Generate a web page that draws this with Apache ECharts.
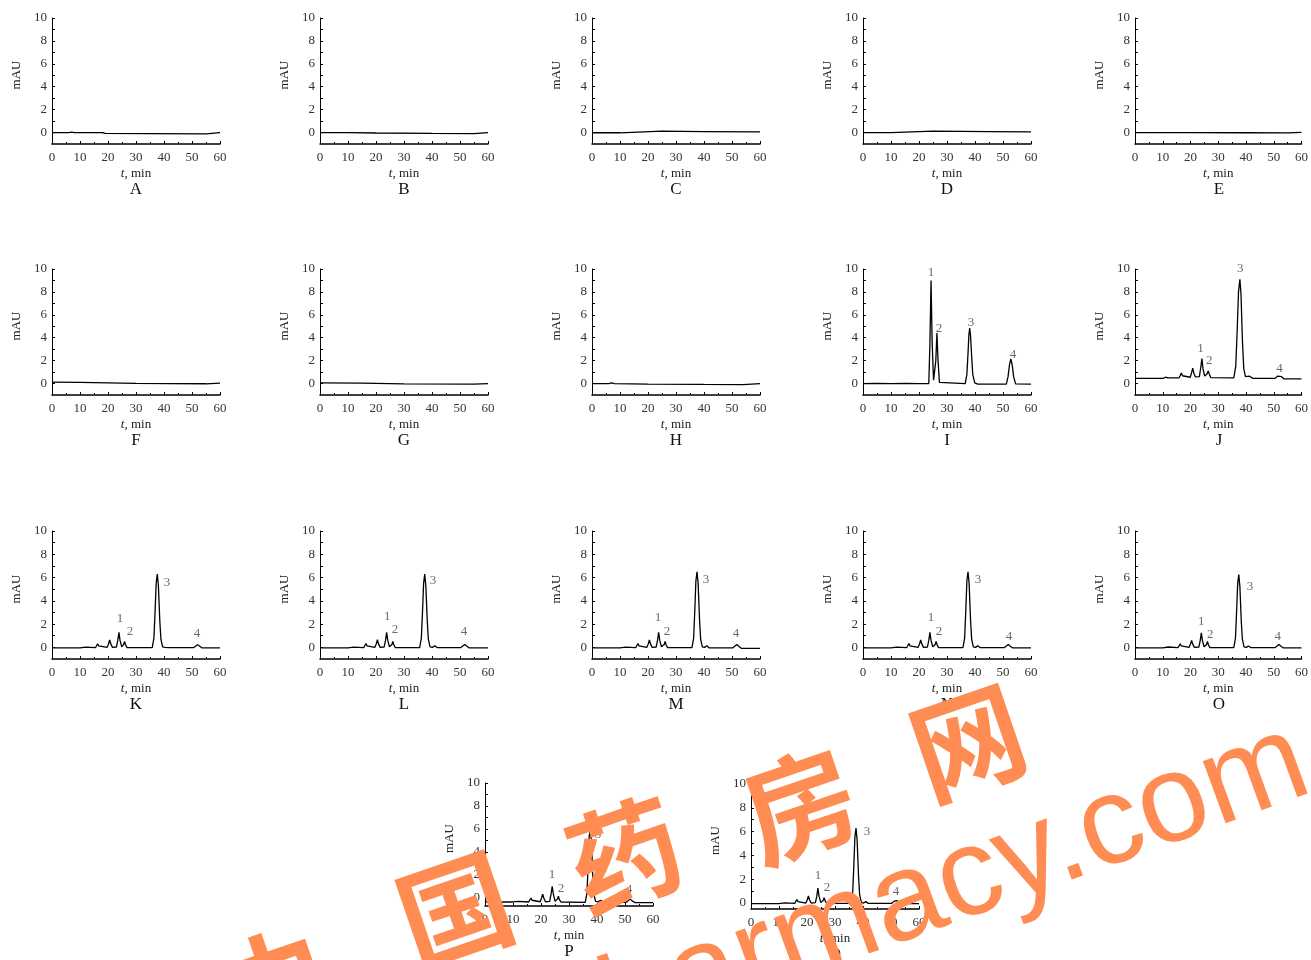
<!DOCTYPE html>
<html>
<head>
<meta charset="utf-8">
<script src="https://cdn.jsdelivr.net/npm/echarts@6/dist/echarts.min.js"></script>
<style>
  html, body { margin: 0; background: #fff; }
  #chart { width: 1311px; height: 960px; }
</style>
</head>
<body>
<div id="chart"></div>
<script>
// panel letters, in reading order
const panelNames = ['A', 'B', 'C', 'D', 'E', 'F', 'G', 'H', 'I', 'J', 'K', 'L', 'M', 'N', 'O', 'P', 'Q']

// tick values
const xTicks = [0, 10, 20, 30, 40, 50, 60]
const yTickLabels = [0, 2, 4, 6, 8, 10]
const yTickMarks = [0, 1, 2, 3, 4, 5, 6, 7, 8, 9, 10]

// chromatograms: [t (min), signal (mAU)]
const traceA = [[0, 0], [6, 0], [7, 0.04], [8, 0], [18, 0], [19, -0.08], [35, -0.1], [55, -0.12], [55.3, 0], [60, 0]]
const traceB = [[0, 0], [10, 0], [20, -0.04], [40, -0.08], [55, -0.1], [55.3, 0], [60, 0]]
const traceC = [[0, -0.02], [10, -0.02], [10.4, 0.08], [25, 0.12], [40, 0.08], [60, 0.05]]
const traceD = [[0, 0], [10, 0], [10.4, 0.1], [25, 0.12], [45, 0.08], [60, 0.05]]
const traceE = [[0, 0], [20, 0], [40, -0.02], [55, -0.03], [55.3, 0.02], [60, 0.02]]
const traceF = [[0, 0.12], [10, 0.1], [30, 0.02], [55, -0.02], [55.3, 0.03], [60, 0.03]]
const traceG = [[0, 0.05], [15, 0.03], [30, -0.03], [55, -0.05], [55.3, 0], [60, 0]]
const traceH = [[0, 0], [6, 0], [7, 0.05], [8, 0], [20, -0.05], [40, -0.08], [54, -0.1], [54.3, 0], [60, 0]]
const traceI = [[0, 0], [5, 0.02], [10, 0], [15, 0.02], [20, 0], [23.5, 0], [23.9, 3.5], [24.3, 9.0], [24.7, 3.5], [25.2, 0.3],
  [25.6, 0.2], [26.0, 2.0], [26.4, 4.4], [26.8, 2.0], [27.3, 0.1], [28, 0], [36.5, 0], [37.1, 0.8], [37.5, 2.6], [37.8, 4.2],
  [38.1, 4.85], [38.4, 4.2], [38.8, 2.4], [39.2, 0.8], [39.9, 0.05], [41, -0.05], [51.2, -0.05], [51.8, 0.6], [52.3, 1.6],
  [52.8, 2.15], [53.3, 1.6], [53.8, 0.6], [54.5, -0.03], [60, -0.05]]
const traceJ = [[0, 0.45], [10, 0.45], [11, 0.55], [12, 0.5], [15.9, 0.5], [16.3, 0.7], [16.7, 0.93], [17.1, 0.68], [17.6, 0.52],
  [19.9, 0.55], [20.4, 0.95], [20.8, 1.34], [21.2, 0.9], [21.8, 0.58], [23.2, 0.6], [23.7, 1.4], [24.1, 2.19], [24.5, 1.3],
  [25.1, 0.65], [25.7, 0.62], [26.0, 0.85], [26.4, 1.1], [26.8, 0.8], [27.3, 0.52], [35.6, 0.5], [36.3, 1.5], [36.8, 4.5],
  [37.3, 8.0], [37.8, 9.1], [38.2, 7.8], [38.7, 3.8], [39.2, 1.3], [39.8, 0.6], [40.5, 0.55], [41.3, 0.64], [42.5, 0.45],
  [50.5, 0.45], [51.3, 0.65], [52, 0.76], [52.8, 0.6], [53.6, 0.42], [60, 0.4]]
const traceK = [[0, -0.05], [10, -0.05], [10.5, 0.03], [12, 0.02], [15.5, -0.03], [15.9, 0.12], [16.3, 0.3], [16.7, 0.12],
  [17.2, -0.02], [19.7, 0], [20.2, 0.3], [20.6, 0.65], [21.0, 0.3], [21.6, 0], [23.0, 0.03], [23.5, 0.6], [23.9, 1.3],
  [24.3, 0.6], [24.9, 0.05], [25.3, 0.05], [25.6, 0.25], [25.9, 0.5], [26.3, 0.2], [26.8, -0.02], [35.8, -0.03], [36.4, 0.8],
  [36.8, 3.0], [37.2, 5.5], [37.6, 6.3], [38.0, 5.3], [38.5, 2.3], [38.9, 0.7], [39.5, 0.05], [40.3, 0], [41, 0.15],
  [41.9, -0.03], [50.5, -0.03], [51.2, 0.14], [52, 0.22], [52.8, 0.1], [53.6, -0.05], [60, -0.05]]
const traceL = [[0, -0.05], [10, -0.05], [10.5, 0.04], [12, 0.02], [15.6, -0.03], [16.0, 0.14], [16.4, 0.33], [16.8, 0.13],
  [17.3, -0.02], [19.6, 0], [20.1, 0.3], [20.5, 0.67], [20.9, 0.3], [21.5, 0], [22.9, 0.03], [23.4, 0.6], [23.8, 1.3],
  [24.2, 0.6], [24.8, 0.05], [25.4, 0.05], [25.7, 0.25], [26.0, 0.5], [26.4, 0.2], [26.9, -0.02], [35.6, -0.03], [36.2, 0.8],
  [36.6, 3.0], [37.0, 5.5], [37.4, 6.3], [37.8, 5.3], [38.3, 2.3], [38.7, 0.7], [39.3, 0.05], [40.2, 0], [41, 0.14],
  [41.9, -0.03], [50.2, -0.03], [50.9, 0.14], [51.7, 0.25], [52.5, 0.1], [53.3, -0.05], [60, -0.05]]
const traceM = [[0, -0.05], [10, -0.05], [10.5, 0.03], [12, 0.02], [15.6, -0.03], [16.0, 0.14], [16.4, 0.33], [16.8, 0.13],
  [17.3, -0.02], [19.6, 0], [20.1, 0.3], [20.5, 0.65], [20.9, 0.3], [21.5, 0], [22.9, 0.03], [23.4, 0.6], [23.8, 1.3],
  [24.2, 0.6], [24.8, 0.05], [25.5, 0.05], [25.8, 0.25], [26.1, 0.5], [26.5, 0.2], [27.0, -0.02], [35.7, -0.03], [36.3, 0.8],
  [36.7, 3.1], [37.1, 5.7], [37.5, 6.5], [37.9, 5.5], [38.4, 2.4], [38.8, 0.7], [39.4, 0.05], [40.2, 0], [41, 0.14],
  [41.9, -0.05], [50.2, -0.05], [50.9, 0.12], [51.7, 0.25], [52.5, 0.08], [53.3, -0.08], [60, -0.08]]
const traceN = [[0, -0.05], [10, -0.05], [10.5, 0.03], [12, 0.02], [15.6, -0.03], [16.0, 0.14], [16.4, 0.33], [16.8, 0.13],
  [17.3, -0.02], [19.7, 0], [20.2, 0.3], [20.6, 0.65], [21.0, 0.3], [21.6, 0], [23.0, 0.03], [23.5, 0.6], [23.9, 1.3],
  [24.3, 0.6], [24.9, 0.05], [25.5, 0.05], [25.8, 0.25], [26.1, 0.5], [26.5, 0.2], [27.0, -0.02], [35.7, -0.03], [36.3, 0.8],
  [36.7, 3.1], [37.1, 5.7], [37.5, 6.5], [37.9, 5.5], [38.4, 2.4], [38.8, 0.7], [39.4, 0.05], [40.2, 0], [41, 0.14],
  [41.9, -0.03], [50.4, -0.03], [51.1, 0.12], [51.9, 0.25], [52.7, 0.08], [53.5, -0.05], [60, -0.05]]
const traceO = [[0, -0.05], [10, -0.05], [10.5, 0.04], [12, 0.03], [15.5, -0.03], [15.9, 0.12], [16.3, 0.3], [16.7, 0.12],
  [17.2, -0.02], [19.5, 0], [20.0, 0.28], [20.4, 0.6], [20.8, 0.28], [21.4, 0], [23.0, 0.03], [23.5, 0.58], [23.9, 1.25],
  [24.3, 0.58], [24.9, 0.05], [25.5, 0.05], [25.8, 0.25], [26.1, 0.5], [26.5, 0.2], [27.0, -0.02], [35.6, -0.03], [36.2, 0.8],
  [36.6, 3.0], [37.0, 5.5], [37.4, 6.25], [37.8, 5.2], [38.3, 2.2], [38.7, 0.7], [39.3, 0.05], [40.1, 0], [40.9, 0.12],
  [41.8, -0.03], [50.4, -0.03], [51.1, 0.12], [51.9, 0.25], [52.7, 0.08], [53.5, -0.05], [60, -0.05]]
const traceP = [[0, -0.35], [10, -0.35], [10.5, -0.28], [12, -0.3], [15.6, -0.35], [16.0, -0.2], [16.4, 0.0], [16.8, -0.2],
  [17.3, -0.35], [19.7, -0.33], [20.2, 0.0], [20.6, 0.32], [21.0, 0.0], [21.6, -0.33], [23.1, -0.3], [23.6, 0.35], [24.0, 1.0],
  [24.4, 0.35], [25.0, -0.28], [25.6, -0.3], [25.9, -0.1], [26.2, 0.15], [26.6, -0.15], [27.1, -0.35], [35.8, -0.38],
  [36.4, 0.4], [36.8, 2.6], [37.2, 5.3], [37.6, 6.1], [38.0, 5.0], [38.5, 1.9], [38.9, 0.3], [39.5, -0.3], [40.4, -0.33],
  [41.3, -0.2], [42.2, -0.38], [50.4, -0.38], [51.1, -0.22], [51.9, -0.1], [52.7, -0.28], [53.5, -0.4], [60, -0.4]]
const traceQ = [[0, -0.05], [10, -0.05], [10.5, 0.03], [12, 0.02], [15.6, -0.03], [16.0, 0.12], [16.4, 0.3], [16.8, 0.12],
  [17.3, -0.02], [19.6, 0], [20.1, 0.28], [20.5, 0.6], [20.9, 0.28], [21.5, 0], [23.0, 0.03], [23.5, 0.58], [23.9, 1.25],
  [24.3, 0.58], [24.9, 0.05], [25.5, 0.05], [25.8, 0.22], [26.1, 0.45], [26.5, 0.18], [27.0, -0.02], [35.7, -0.03],
  [36.3, 0.8], [36.7, 3.0], [37.1, 5.5], [37.5, 6.3], [37.9, 5.3], [38.4, 2.3], [38.8, 0.7], [39.4, 0.05], [40.2, 0],
  [41, 0.12], [41.9, -0.03], [50.2, -0.03], [51.0, 0.14], [51.9, 0.2], [52.9, 0.1], [53.8, -0.05], [60, -0.05]]

// peak numbers: [t, mAU, text]
const labelsI = [[24.3, 9.65, '1'], [27.1, 4.8, '2'], [38.6, 5.3, '3'], [53.6, 2.5, '4']]
const labelsJ = [[23.6, 3.05, '1'], [26.8, 2.0, '2'], [37.9, 10.0, '3'], [52.1, 1.3, '4']]
const labelsK = [[24.3, 2.5, '1'], [27.9, 1.38, '2'], [41.1, 5.6, '3'], [51.8, 1.2, '4']]
const labelsL = [[24.0, 2.67, '1'], [26.8, 1.55, '2'], [40.4, 5.7, '3'], [51.4, 1.38, '4']]
const labelsM = [[23.6, 2.6, '1'], [26.8, 1.38, '2'], [40.7, 5.86, '3'], [51.4, 1.2, '4']]
const labelsN = [[24.3, 2.6, '1'], [27.1, 1.35, '2'], [41.1, 5.8, '3'], [52.1, 0.92, '4']]
const labelsO = [[23.9, 2.25, '1'], [27.1, 1.1, '2'], [41.4, 5.26, '3'], [51.4, 0.95, '4']]
const labelsP = [[23.9, 2.0, '1'], [27.1, 0.78, '2'], [40.4, 5.48, '3'], [51.4, 0.7, '4']]
const labelsQ = [[23.9, 2.27, '1'], [27.1, 1.26, '2'], [41.4, 5.97, '3'], [51.8, 0.95, '4']]

const traces = [traceA, traceB, traceC, traceD, traceE, traceF, traceG, traceH, traceI,
  traceJ, traceK, traceL, traceM, traceN, traceO, traceP, traceQ]
const peakLabels = [[], [], [], [], [], [], [], [], labelsI, labelsJ, labelsK, labelsL,
  labelsM, labelsN, labelsO, labelsP, labelsQ]

// layout (pixels)
const colLeft = [52, 320, 592, 863, 1135]
const rowTop = [18, 269, 531]
const rowHeight = [126, 126, 128]
const plotW = 168
function panelBox (i) {
  if (i === 15) return { left: 485, top: 783, height: 123, yMin: -0.7 }
  if (i === 16) return { left: 751, top: 784, height: 125, yMin: -0.5 }
  const r = Math.floor(i / 5)
  return { left: colLeft[i % 5], top: rowTop[r], height: rowHeight[r], yMin: -1 }
}

const serif = '"Liberation Serif", "DejaVu Serif", serif'
const grid = []
const xAxis = []
const yAxis = []
const series = []
const graphic = []

panelNames.forEach((name, i) => {
  const b = panelBox(i)
  grid.push({ left: b.left, top: b.top, width: plotW, height: b.height })
  xAxis.push({
    gridIndex: i,
    type: 'value',
    min: 0,
    max: 60,
    interval: 10,
    axisLine: { onZero: false, lineStyle: { color: '#000', width: 1.5 } },
    axisTick: { inside: true, length: 3, lineStyle: { color: '#000' } },
    minorTick: { show: true, splitNumber: 2, length: 2, lineStyle: { color: '#000' } },
    splitLine: { show: false },
    axisLabel: { color: '#333', fontFamily: serif, fontSize: 13, margin: 7, customValues: xTicks },
    name: '{i|t}, min',
    nameLocation: 'middle',
    nameGap: 23,
    nameTextStyle: {
      color: '#222',
      fontFamily: serif,
      fontSize: 13,
      rich: { i: { fontStyle: 'italic', fontFamily: serif, fontSize: 13, color: '#222' } }
    }
  })
  yAxis.push({
    gridIndex: i,
    type: 'value',
    min: b.yMin,
    max: 10,
    axisLine: { show: true, onZero: false, lineStyle: { color: '#000', width: 1 } },
    axisTick: { show: true, inside: true, length: 3, customValues: yTickMarks, lineStyle: { color: '#000' } },
    splitLine: { show: false },
    axisLabel: { color: '#333', fontFamily: serif, fontSize: 13, margin: 5, customValues: yTickLabels },
    name: 'mAU',
    nameLocation: 'middle',
    nameGap: 29,
    nameTextStyle: { color: '#222', fontFamily: serif, fontSize: 13, padding: [0, 0, 0, 12] }
  })
  series.push({
    type: 'line',
    xAxisIndex: i,
    yAxisIndex: i,
    data: traces[i],
    showSymbol: false,
    lineStyle: { color: '#000', width: 1.3 },
    animation: false
  })
  if (peakLabels[i].length) {
    // invisible points that only carry the peak numbers
    series.push({
      type: 'scatter',
      xAxisIndex: i,
      yAxisIndex: i,
      data: peakLabels[i],
      symbolSize: 1,
      itemStyle: { color: 'rgba(0,0,0,0)' },
      label: {
        show: true,
        position: 'inside',
        formatter: p => p.value[2],
        color: '#444',
        fontFamily: serif,
        fontSize: 13
      },
      z: 5,
      silent: true,
      animation: false
    })
  }
  // panel letter under the axis title
  graphic.push({
    type: 'text',
    x: b.left + plotW / 2,
    y: b.top + b.height + 46,
    style: {
      text: name,
      font: '17px ' + serif,
      fill: '#111',
      align: 'center',
      verticalAlign: 'middle',
      textAlign: 'center',
      textVerticalAlign: 'middle'
    }
  })
})

// orange watermark across the bottom
const wmColor = '#ff8c52'
const wmChars = [['中', 272, 985], ['国', 455, 910], ['药', 625, 855], ['房', 800, 805], ['网', 968, 742]]
wmChars.forEach(c => {
  graphic.push({
    type: 'text',
    x: c[1],
    y: c[2],
    rotation: 0.33,
    z: 100,
    style: {
      text: c[0],
      font: 'bold 112px "Noto Sans CJK SC"',
      fill: wmColor,
      align: 'center',
      verticalAlign: 'middle',
      textAlign: 'center',
      textVerticalAlign: 'middle'
    }
  })
})
graphic.push({
  type: 'text',
  x: 1325,
  y: 817,
  rotation: 0.35,
  z: 100,
  style: {
    text: 'www.chinapharmacy.com',
    font: '125px "Liberation Sans", Arial, sans-serif',
    fill: wmColor,
    align: 'right',
    verticalAlign: 'bottom',
    textAlign: 'right',
    textVerticalAlign: 'bottom'
  }
})

const chart = echarts.init(document.getElementById('chart'))
chart.setOption({
  animation: false,
  backgroundColor: '#fff',
  grid,
  xAxis,
  yAxis,
  series,
  graphic
})
</script>
</body>
</html>
